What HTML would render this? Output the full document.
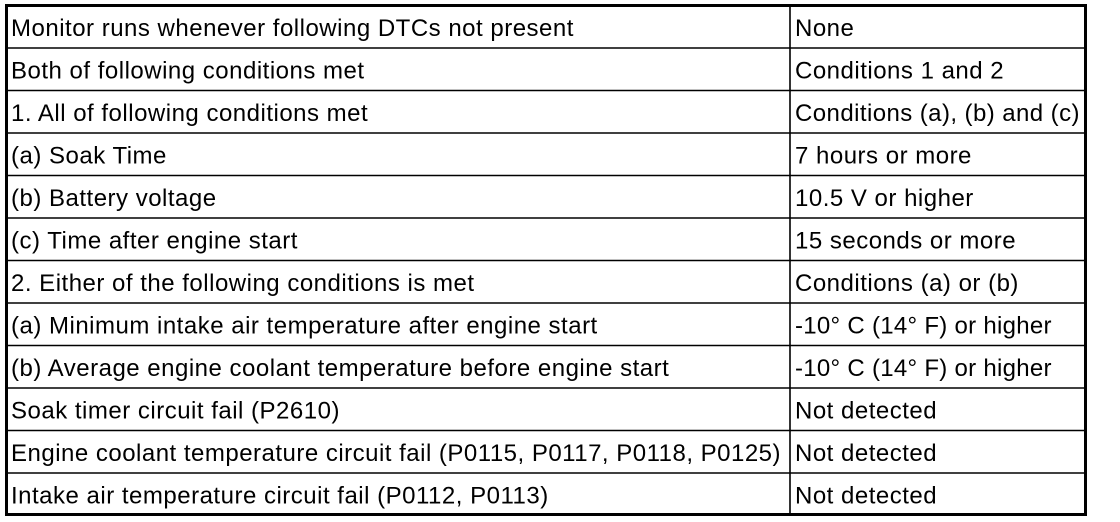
<!DOCTYPE html>
<html><head><meta charset="utf-8"><style>
html,body{margin:0;padding:0;background:#fff;width:1120px;height:522px;overflow:hidden}
svg text{font-family:"Liberation Sans",Arial,sans-serif;font-size:24px;letter-spacing:0.5px;fill:#000}
</style></head><body>
<svg width="1120" height="522" xmlns="http://www.w3.org/2000/svg">
<g stroke="#000" stroke-width="1.6">
<line x1="6" y1="48" x2="1086" y2="48"/>
<line x1="6" y1="90.5" x2="1086" y2="90.5"/>
<line x1="6" y1="133" x2="1086" y2="133"/>
<line x1="6" y1="175.5" x2="1086" y2="175.5"/>
<line x1="6" y1="218" x2="1086" y2="218"/>
<line x1="6" y1="260.5" x2="1086" y2="260.5"/>
<line x1="6" y1="303" x2="1086" y2="303"/>
<line x1="6" y1="345.5" x2="1086" y2="345.5"/>
<line x1="6" y1="388" x2="1086" y2="388"/>
<line x1="6" y1="430.5" x2="1086" y2="430.5"/>
<line x1="6" y1="473" x2="1086" y2="473"/>
<line x1="790" y1="6" x2="790" y2="514"/>
</g>
<rect x="6.5" y="5.5" width="1079" height="509" fill="none" stroke="#000" stroke-width="3"/>
<g>
<text x="11" y="36">Monitor runs whenever following DTCs not present</text>
<text x="11" y="78.5">Both of following conditions met</text>
<text x="11" y="121">1. All of following conditions met</text>
<text x="11" y="163.5">(a) Soak Time</text>
<text x="11" y="206">(b) Battery voltage</text>
<text x="11" y="248.5">(c) Time after engine start</text>
<text x="11" y="291">2. Either of the following conditions is met</text>
<text x="11" y="333.5">(a) Minimum intake air temperature after engine start</text>
<text x="11" y="376">(b) Average engine coolant temperature before engine start</text>
<text x="11" y="418.5">Soak timer circuit fail (P2610)</text>
<text x="11" y="461" textLength="770">Engine coolant temperature circuit fail (P0115, P0117, P0118, P0125)</text>
<text x="11" y="503.5">Intake air temperature circuit fail (P0112, P0113)</text>
<text x="795" y="36">None</text>
<text x="795" y="78.5">Conditions 1 and 2</text>
<text x="795" y="121" textLength="285">Conditions (a), (b) and (c)</text>
<text x="795" y="163.5">7 hours or more</text>
<text x="795" y="206">10.5 V or higher</text>
<text x="795" y="248.5">15 seconds or more</text>
<text x="795" y="291">Conditions (a) or (b)</text>
<text x="795" y="333.5" textLength="257">-10° C (14° F) or higher</text>
<text x="795" y="376" textLength="257">-10° C (14° F) or higher</text>
<text x="795" y="418.5">Not detected</text>
<text x="795" y="461">Not detected</text>
<text x="795" y="503.5">Not detected</text>
</g>
</svg>
</body></html>
